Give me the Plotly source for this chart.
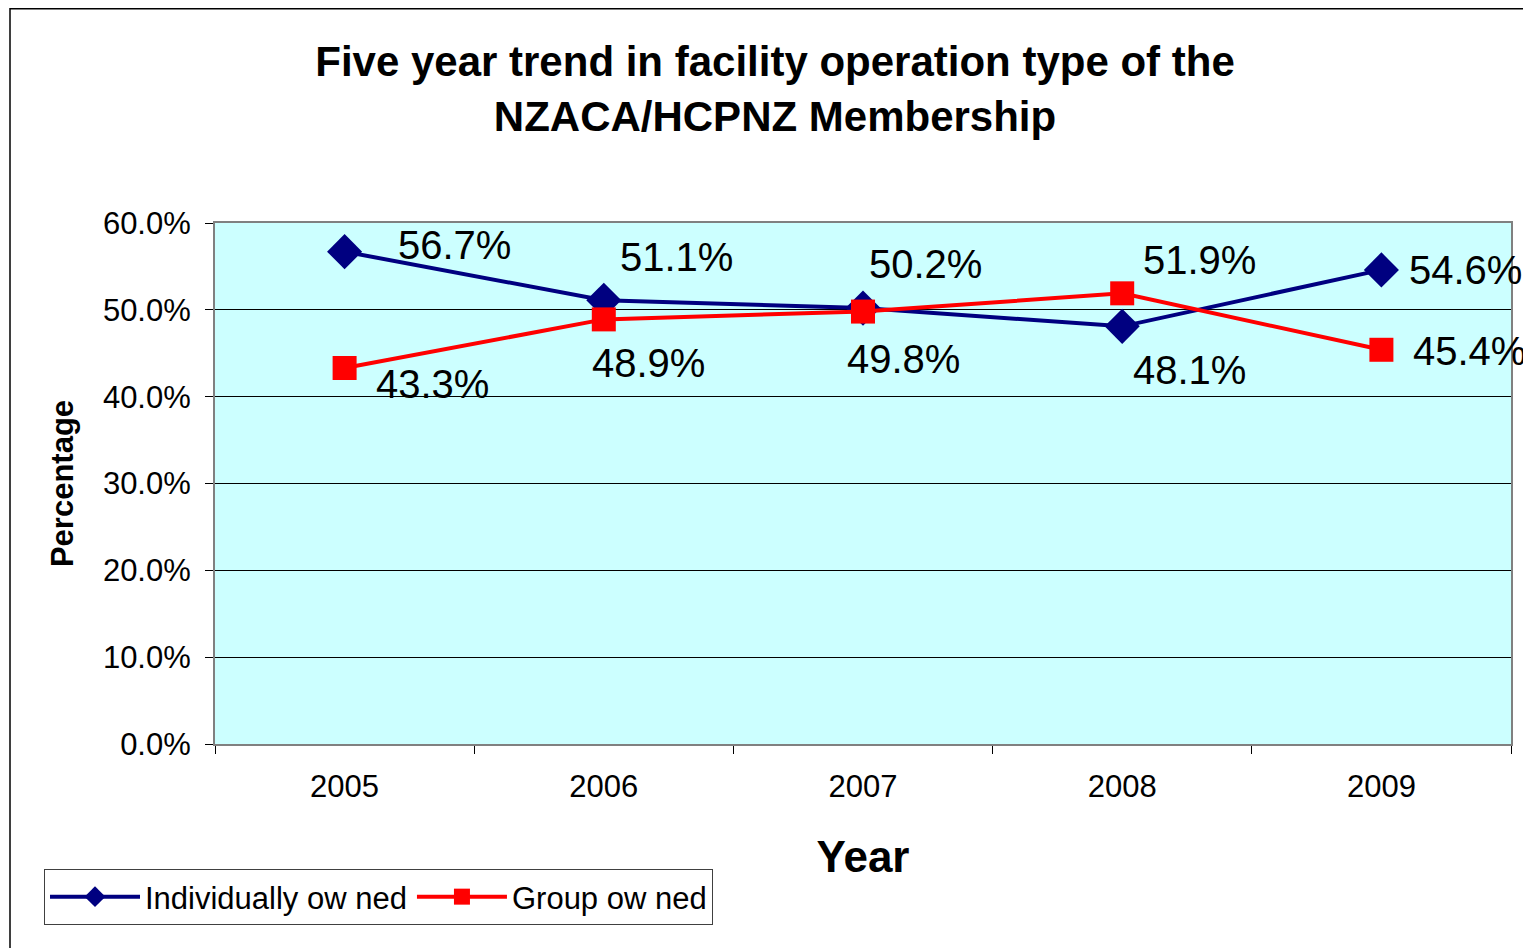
import plotly.graph_objects as go

years = ["2005", "2006", "2007", "2008", "2009"]
individually_owned = [56.7, 51.1, 50.2, 48.1, 54.6]
group_owned = [43.3, 48.9, 49.8, 51.9, 45.4]
y_ticks = [0, 10, 20, 30, 40, 50, 60]
y_tick_labels = ["0.0%", "10.0%", "20.0%", "30.0%", "40.0%", "50.0%", "60.0%"]

# label offsets (pixels) for data labels
ind_shift = [(110, 7), (73, 43), (62, 44), (67, -44), (84, 0)]
grp_shift = [(88, -16), (45, -44), (40, -47), (77, 33), (88, -1)]

FONT = "Liberation Sans, Arial, sans-serif"

fig = go.Figure()
fig.add_trace(go.Scatter(
    x=years, y=individually_owned, name="Individually ow ned",
    mode="lines+markers",
    line=dict(color="#000080", width=4),
    marker=dict(symbol="diamond", size=27, color="#000080"),
))
fig.add_trace(go.Scatter(
    x=years, y=group_owned, name="Group ow ned",
    mode="lines+markers",
    line=dict(color="#FF0000", width=4),
    marker=dict(symbol="square", size=24, color="#FF0000"),
))

annotations = []
for i, (v, (dx, dy)) in enumerate(zip(individually_owned, ind_shift)):
    annotations.append(dict(x=i, y=v, xref="x", yref="y", text=f"{v:.1f}%", showarrow=False,
                            xshift=dx, yshift=dy, font=dict(size=40, color="black", family=FONT)))
for i, (v, (dx, dy)) in enumerate(zip(group_owned, grp_shift)):
    annotations.append(dict(x=i, y=v, xref="x", yref="y", text=f"{v:.1f}%", showarrow=False,
                            xshift=dx, yshift=dy, font=dict(size=40, color="black", family=FONT)))

W, H = 1531, 948
fig.update_layout(
    width=W, height=H,
    margin=dict(l=207, r=28, t=215, b=212),
    paper_bgcolor="white",
    plot_bgcolor="#CCFFFF",
    font=dict(family=FONT, color="black"),
    title=dict(
        text="<b>Five year trend in facility operation type of the<br>NZACA/HCPNZ Membership</b>",
        x=767 / W, xref="container", xanchor="center",
        y=1 - 68 / H, yref="container", yanchor="top",
        font=dict(size=42, family=FONT, color="black"),
    ),
    showlegend=True,
    legend=dict(
        orientation="h", x=(44 - 215) / 1296, xanchor="left",
        y=(744 - 869) / 521, yanchor="top",
        bordercolor="#404040", borderwidth=1, bgcolor="white",
        font=dict(size=31, family=FONT, color="black"),
        itemwidth=90,
    ),
    annotations=annotations,
    shapes=[dict(type="rect", xref="paper", yref="paper",
                 x0=(2 - 207) / 1296, x1=1.1, y0=-0.6, y1=(736 - 0.75) / 521,
                 line=dict(color="black", width=1.5), fillcolor="rgba(0,0,0,0)", layer="below")],
)

fig.update_xaxes(
    type="category", range=[-0.5, 4.5],
    showgrid=False, ticks="outside", ticklen=8, tickcolor="black",
    tickson="boundaries", ticklabelstandoff=14,
    showline=True, linecolor="#808080", linewidth=2, mirror=True,
    tickfont=dict(size=31, family=FONT),
    title=dict(text="<b>Year</b>", font=dict(size=44, family=FONT), standoff=38),
)
fig.update_yaxes(
    range=[0, 60], tickvals=y_ticks, ticktext=y_tick_labels,
    showgrid=True, gridcolor="black", gridwidth=1,
    ticks="outside", ticklen=8, tickcolor="black", ticklabelstandoff=8,
    showline=True, linecolor="#808080", linewidth=2, mirror=True,
    zeroline=False,
    tickfont=dict(size=31, family=FONT),
    title=dict(text="<b>Percentage</b>", font=dict(size=31, family=FONT), standoff=20),
)

fig.write_html("out.html")
